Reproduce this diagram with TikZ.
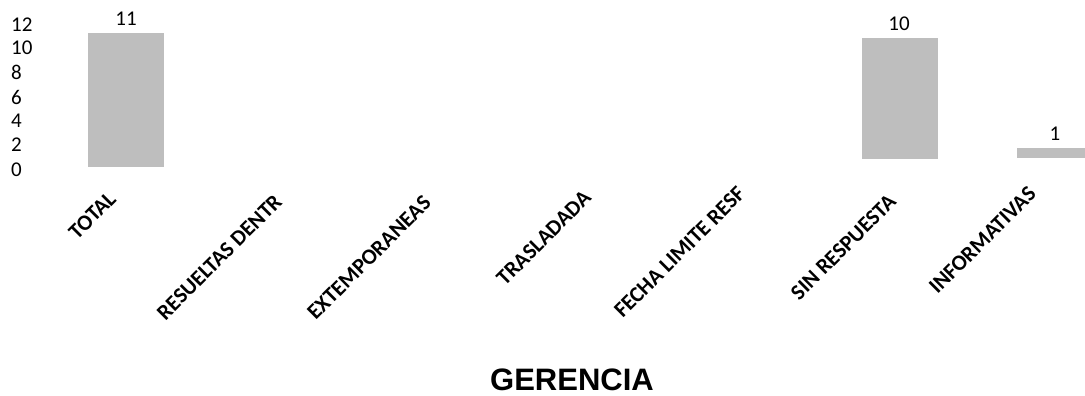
\documentclass[tikz,border=0pt]{standalone}
\usepackage{fontspec}
\setmainfont{Carlito}
\newfontfamily\titlefont{Liberation Sans}
\definecolor{barfill}{RGB}{190,190,190}
\begin{document}
\begin{tikzpicture}[x=1pt,y=-1pt,
    bar/.style={fill=barfill,draw=none},
    val/.style={font=\fontsize{21}{21}\selectfont,inner sep=0pt},
    tick/.style={font=\fontsize{21}{21}\selectfont,anchor=west,inner sep=0pt},
    cat/.style={font=\bfseries\fontsize{22}{22}\selectfont,rotate=45,anchor=north east,inner sep=0pt}]
\useasboundingbox (0,0) rectangle (1085,396);
% eje vertical
\foreach \v/\y in {12/25,10/48,8/72,6/97,4/121,2/145,0/170}
    \node[tick] (y\v) at (11,\y) {\v};
% barras
\fill[bar] (88,33) rectangle (164,167);
\fill[bar] (862,38) rectangle (938,159);
\fill[bar] (1017,148) rectangle (1085,158);
\node[val] (v_total) at (126,19) {11};
\node[val] (v_sin) at (899,24) {10};
\node[val] (v_inf) at (1055,134) {1};
% categorias
\node[cat] (c_total) at (107,190) {TOTAL};
\node[cat] (c_res) at (273,193) {RESUELTAS DENTR};
\node[cat] (c_ext) at (422,194) {EXTEMPORANEAS};
\node[cat] (c_tras) at (582,189) {TRASLADADA};
\node[cat] (c_fecha) at (736,185) {FECHA LIMITE RESF};
\node[cat] (c_sin) at (887,193) {SIN RESPUESTA};
\node[cat] (c_inf) at (1027,185) {INFORMATIVAS};
\node[font=\titlefont\bfseries\fontsize{31}{31}\selectfont,inner sep=0pt] (titulo) at (572,380) {GERENCIA};
\end{tikzpicture}
\end{document}
